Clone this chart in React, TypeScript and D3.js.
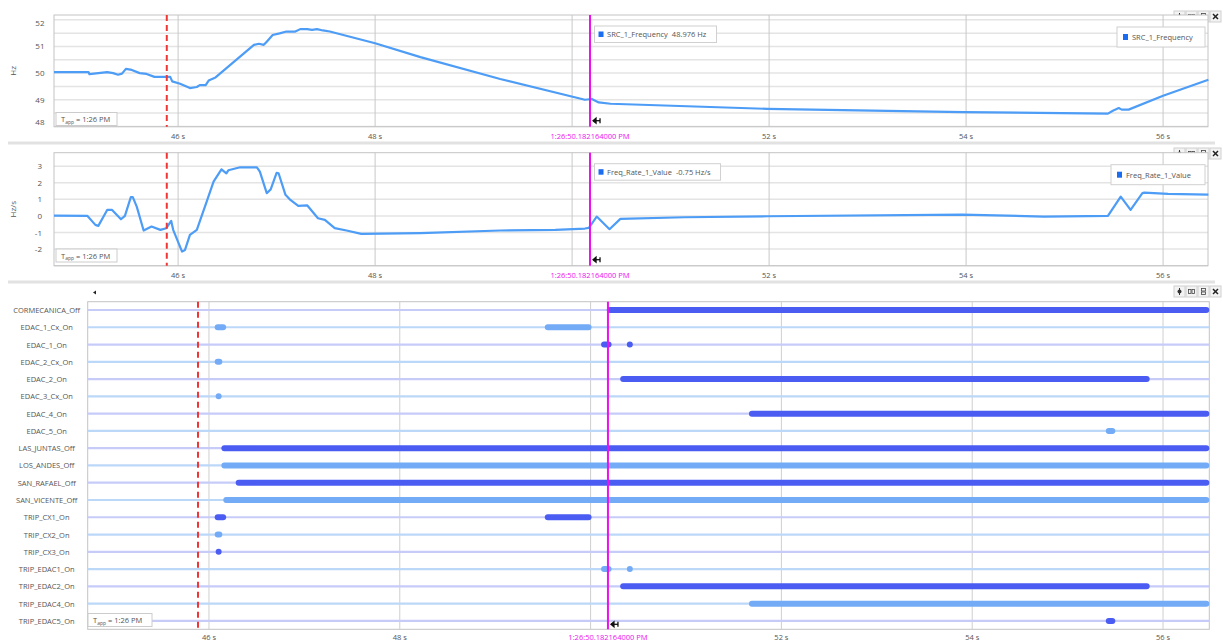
import React from "react";
import * as d3 from "d3";

// ---------- data ----------
const freqT = [44.74, 45.09, 45.10, 45.28, 45.34, 45.39, 45.43, 45.47, 45.53, 45.61, 45.68, 45.76, 45.92, 45.94, 46.02, 46.12, 46.19, 46.22, 46.28, 46.31, 46.38, 46.77, 46.82, 46.87, 46.90, 46.96, 47.03, 47.10, 47.19, 47.24, 47.31, 47.36, 47.41, 47.47, 47.54, 48.0, 48.46, 49.27, 50.13, 50.20, 50.27, 50.39, 51.98, 53.97, 55.44, 55.49, 55.55, 55.58, 55.65, 56.0, 56.46];
const freqV = [50.04, 50.04, 49.96, 50.04, 50.0, 49.94, 49.98, 50.16, 50.12, 50.0, 49.97, 49.86, 49.86, 49.69, 49.60, 49.44, 49.48, 49.55, 49.55, 49.72, 49.84, 51.06, 51.10, 51.06, 51.18, 51.43, 51.49, 51.56, 51.56, 51.65, 51.65, 51.62, 51.65, 51.60, 51.56, 51.12, 50.60, 49.78, 49.0, 49.03, 48.90, 48.85, 48.66, 48.54, 48.48, 48.59, 48.69, 48.63, 48.63, 49.15, 49.75];

const rateT = [44.74, 45.08, 45.16, 45.19, 45.28, 45.33, 45.42, 45.46, 45.52, 45.54, 45.58, 45.65, 45.73, 45.82, 45.88, 45.93, 45.95, 46.04, 46.07, 46.12, 46.19, 46.29, 46.36, 46.44, 46.49, 46.51, 46.63, 46.80, 46.83, 46.90, 46.94, 47.0, 47.02, 47.09, 47.14, 47.22, 47.31, 47.42, 47.49, 47.59, 47.71, 47.86, 48.46, 49.27, 49.83, 50.13, 50.17, 50.25, 50.38, 50.49, 51.14, 51.98, 53.96, 54.79, 55.44, 55.57, 55.67, 55.79, 55.81, 56.05, 56.46];
const rateV = [0.02, 0.0, -0.54, -0.6, 0.36, 0.36, -0.2, 0.0, 1.13, 1.13, 0.56, -0.88, -0.64, -0.84, -0.74, -0.3, -0.84, -2.15, -2.05, -1.14, -0.84, 0.86, 2.07, 2.81, 2.57, 2.75, 2.93, 2.93, 2.67, 1.37, 1.6, 2.6, 2.57, 1.27, 0.96, 0.6, 0.64, -0.14, -0.24, -0.74, -0.88, -1.08, -1.04, -0.88, -0.84, -0.76, -0.72, -0.04, -0.8, -0.18, -0.08, -0.02, 0.08, -0.04, 0.0, 1.16, 0.36, 1.37, 1.4, 1.33, 1.28];

const signalNames = ["CORMECANICA_Off", "EDAC_1_Cx_On", "EDAC_1_On", "EDAC_2_Cx_On", "EDAC_2_On", "EDAC_3_Cx_On", "EDAC_4_On", "EDAC_5_On", "LAS_JUNTAS_Off", "LOS_ANDES_Off", "SAN_RAFAEL_Off", "SAN_VICENTE_Off", "TRIP_CX1_On", "TRIP_CX2_On", "TRIP_CX3_On", "TRIP_EDAC1_On", "TRIP_EDAC2_On", "TRIP_EDAC4_On", "TRIP_EDAC5_On"];
const END = 56.49;
const signalIntervals: [number, number][][] = [
  [[50.17, END]],
  [[46.06, 46.18], [49.52, 50.01]],
  [[50.11, 50.22], [50.38, 50.44]],
  [[46.06, 46.14]],
  [[50.31, 55.86]],
  [[46.07, 46.09]],
  [[51.66, END]],
  [[55.40, 55.50]],
  [[46.13, END]],
  [[46.13, END]],
  [[46.28, END]],
  [[46.15, END]],
  [[46.06, 46.18], [49.52, 50.01]],
  [[46.06, 46.14]],
  [[46.07, 46.09]],
  [[50.11, 50.22], [50.38, 50.44]],
  [[50.31, 55.86]],
  [[51.66, END]],
  [[55.40, 55.50]],
];

const xTicks = [46, 48, 50, 52, 54, 56];
const freqTicks = [48, 49, 50, 51, 52];
const rateTicks = [-2, -1, 0, 1, 2, 3];
const triggerT = 45.885;
const cursorT = 50.182;
const cursorLabel = "1:26:50.182164000 PM";
const freqName = "SRC_1_Frequency";
const freqReadout = "48.976 Hz";
const rateName = "Freq_Rate_1_Value";
const rateReadout = "-0.75 Hz/s";

// ---------- styles ----------
const FONT = "'Open Sans', 'Noto Sans', sans-serif";
const LINE = "#4d9cf6";
const DARK = "#4a5cf2";
const LIGHT = "#73abf6";
const MAG = "#ee10ee";
const TXT = "#555";

function Buttons({ y }: { y: number }) {
  const xs = [1174, 1186, 1198, 1210];
  return (
    <g>
      {xs.map((x, i) => (
        <rect key={i} x={x} y={y} width={11} height={11} fill="#f3f3f3" stroke="#d0d0d0" />
      ))}
      {/* pin */}
      <g fill="#333">
        <circle cx={1179.5} cy={y + 5.5} r={2} />
        <rect x={1179} y={y + 2} width={1} height={7} />
      </g>
      {/* split horizontally */}
      <g fill="none" stroke="#444" strokeWidth={0.8}>
        <rect x={1188.5} y={y + 3.5} width={2.5} height={4} />
        <rect x={1192} y={y + 3.5} width={2.5} height={4} />
        <rect x={1201.5} y={y + 2.5} width={4} height={2.5} />
        <rect x={1201.5} y={y + 6} width={4} height={2.5} />
      </g>
      <g stroke="#222" strokeWidth={1.5}>
        <line x1={1213} y1={y + 3} x2={1218} y2={y + 8} />
        <line x1={1218} y1={y + 3} x2={1213} y2={y + 8} />
      </g>
    </g>
  );
}

function TappBox({ x, y, w }: { x: number; y: number; w: number }) {
  return (
    <g>
      <rect x={x} y={y} width={w} height={13} fill="#fff" stroke="#ccc" />
      <text x={x + 5} y={y + 9.5} fontSize={7.5} fill={TXT} fontFamily={FONT}>
        T<tspan fontSize={5} dy={1.5}>app</tspan><tspan dy={-1.5}> = 1:26 PM</tspan>
      </text>
    </g>
  );
}

function CursorMarker({ x, y }: { x: number; y: number }) {
  return (
    <g stroke="#111" strokeWidth={1.3} fill="#111">
      <line x1={x + 3} y1={y} x2={x + 10} y2={y} />
      <line x1={x + 10} y1={y - 2.5} x2={x + 10} y2={y + 2.5} />
      <path d={`M${x + 3},${y} l3,-2.5 v5 z`} />
    </g>
  );
}

function LinePanel(props: {
  top: number; bottom: number; left: number; right: number;
  xDomain: [number, number]; yDomain: [number, number];
  T: number[]; V: number[]; ticks: number[]; gridStep: number;
  unit: string; name: string; readout: string; tipW: number; legW: number;
  labelRight: number;
}) {
  const { top, bottom, left, right, T, V, ticks, gridStep } = props;
  const x = d3.scaleLinear().domain(props.xDomain).range([left, right]);
  const y = d3.scaleLinear().domain(props.yDomain).range([bottom, top]);
  const pts = T.map((t, i) => [t, V[i]] as [number, number]);
  const line = d3.line<[number, number]>().x((d) => x(d[0])).y((d) => y(d[1]));
  const grid = d3.range(Math.ceil(props.yDomain[0] / gridStep) * gridStep, props.yDomain[1], gridStep);
  const cx = x(cursorT);
  const tx = x(triggerT);
  return (
    <g fontFamily={FONT}>
      <rect x={left} y={top} width={right - left} height={bottom - top} fill="#fff" />
      {grid.map((g, i) => (
        <line key={i} x1={left} x2={right} y1={y(g)} y2={y(g)} stroke="#e4e4e4" strokeWidth={1.5} />
      ))}
      {xTicks.map((t) => (
        <line key={t} x1={x(t)} x2={x(t)} y1={top} y2={bottom} stroke="#c8c8c8" strokeWidth={1} />
      ))}
      <rect x={left} y={top} width={right - left} height={bottom - top} fill="none" stroke="#c4c4c4" />
      {ticks.map((v) => (
        <text key={v} x={props.labelRight} y={Math.min(Math.max(y(v), top + 8), bottom - 5) + 3} fontSize={8} fill={TXT} textAnchor="end">{v}</text>
      ))}
      <text transform={`translate(16,${(top + bottom) / 2}) rotate(-90)`} fontSize={8} fill={TXT} textAnchor="middle">{props.unit}</text>
      <path d={line(pts) || ""} fill="none" stroke={LINE} strokeWidth={2.2} strokeLinejoin="round" />
      <line x1={tx} x2={tx} y1={top} y2={bottom} stroke="#f03535" strokeWidth={2} strokeDasharray="6,4" />
      <line x1={cx} x2={cx} y1={top} y2={bottom} stroke={MAG} strokeWidth={2} />
      <CursorMarker x={cx} y={bottom - 6} />
      {xTicks.filter((t) => t !== 50).map((t) => (
        <text key={t} x={x(t)} y={bottom + 12} fontSize={7.5} fill={TXT} textAnchor="middle">{t} s</text>
      ))}
      <text x={cx} y={bottom + 12} fontSize={7.5} fill={MAG} textAnchor="middle">{cursorLabel}</text>
      <g>
        <rect x={cx + 4.5} y={top + 11} width={props.tipW} height={16.5} fill="#fff" stroke="#d0d0d0" />
        <rect x={cx + 8.5} y={top + 16.5} width={5} height={5.5} fill="#1a6cf0" />
        <text x={cx + 17} y={top + 22} fontSize={7.5} fill={TXT}>{props.name}<tspan dx={4}>{props.readout}</tspan></text>
      </g>
      <g>
        <rect x={right - 3 - props.legW} y={top + 12} width={props.legW} height={20} fill="#fff" stroke="#d0d0d0" />
        <rect x={right + 3 - props.legW} y={top + 19} width={5} height={6} fill="#1a6cf0" />
        <text x={right + 12 - props.legW} y={top + 25} fontSize={7.5} fill={TXT}>{props.name}</text>
      </g>
    </g>
  );
}

function EventPanel() {
  const left = 87.7, right = 1209.3, top = 301.7, bottom = 629.3;
  const x = d3.scaleLinear().domain([44.729, 56.485]).range([left, right]);
  const y = d3.scalePoint<string>().domain(signalNames).range([310, 620.9]);
  const cap = 3;
  return (
    <g fontFamily={FONT}>
      <rect x={left} y={top} width={right - left} height={bottom - top} fill="#fff" stroke="#c4c4c4" />
      {xTicks.map((t) => (
        <line key={t} x1={x(t)} x2={x(t)} y1={top} y2={bottom} stroke="#cfcfcf" strokeWidth={1} />
      ))}
      {signalNames.map((n, i) => (
        <g key={n}>
          <line x1={left} x2={right} y1={y(n)} y2={y(n)} stroke={i % 2 === 0 ? "#c6cbf8" : "#bcd8f9"} strokeWidth={2.2} />
          <text x={46.7} y={(y(n) as number) + 3} fontSize={7.5} fill={TXT} textAnchor="middle">{n}</text>
          {signalIntervals[i].map((iv, j) => {
            const a = x(iv[0]) + cap;
            const b = Math.max(a, Math.min(x(iv[1]), right) - cap);
            return (
              <line key={j} x1={a} x2={b} y1={y(n)} y2={y(n)} stroke={i % 2 === 0 ? DARK : LIGHT} strokeWidth={6} strokeLinecap="round" />
            );
          })}
        </g>
      ))}
      <line x1={x(triggerT)} x2={x(triggerT)} y1={top} y2={bottom} stroke="#f03535" strokeWidth={2} strokeDasharray="6,4" />
      <line x1={x(cursorT)} x2={x(cursorT)} y1={top} y2={bottom} stroke={MAG} strokeWidth={2} />
      <CursorMarker x={x(cursorT)} y={bottom - 5} />
      <TappBox x={88} y={613.5} w={64} />
      {xTicks.filter((t) => t !== 50).map((t) => (
        <text key={t} x={x(t)} y={bottom + 11} fontSize={7.5} fill={TXT} textAnchor="middle">{t} s</text>
      ))}
      <text x={x(cursorT)} y={bottom + 11} fontSize={7.5} fill={MAG} textAnchor="middle">{cursorLabel}</text>
      <path d="M93,292.5 l3,-2 v4 z" fill="#222" />
    </g>
  );
}

export default function App() {
  return (
    <div style={{ position: "fixed", left: 0, top: 0, width: 1223, height: 644, background: "#fff" }}>
      <svg width={1223} height={644} style={{ display: "block" }}>
        <rect width={1223} height={644} fill="#fff" />
        <Buttons y={11} />
        <LinePanel top={15} bottom={126.7} left={54} right={1208} xDomain={[44.74, 56.456]} yDomain={[47.99, 52.18]}
          T={freqT} V={freqV} ticks={freqTicks} gridStep={0.5} unit="Hz" name={freqName} readout={freqReadout}
          tipW={122} legW={88} labelRight={44.5} />
        <TappBox x={56} y={112.5} w={61} />
        <line x1={8} x2={1215} y1={143} y2={143} stroke="#e2e2e2" strokeWidth={3} />
        <Buttons y={148} />
        <LinePanel top={152.7} bottom={265.7} left={54} right={1208} xDomain={[44.74, 56.456]} yDomain={[-3, 3.81]}
          T={rateT} V={rateV} ticks={rateTicks} gridStep={1} unit="Hz/s" name={rateName} readout={rateReadout}
          tipW={126} legW={94} labelRight={42} />
        <TappBox x={56} y={249} w={61} />
        <line x1={8} x2={1215} y1={282} y2={282} stroke="#e2e2e2" strokeWidth={3} />
        <Buttons y={286} />
        <EventPanel />
      </svg>
    </div>
  );
}
